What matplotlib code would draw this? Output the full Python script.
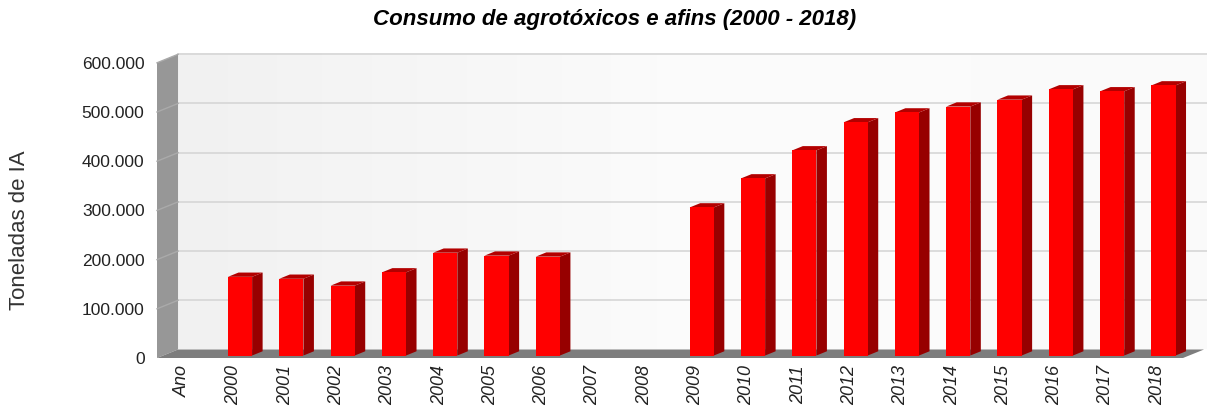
import matplotlib

matplotlib.use("Agg")
import matplotlib.pyplot as plt  # noqa: E402
import numpy as np  # noqa: E402
from matplotlib.patches import Polygon  # noqa: E402

# data (tonnes of active ingredient)
categories = ["Ano"] + [str(y) for y in range(2000, 2019)]
values = [None, 160000, 156000, 142000, 169000, 209000, 203000, 201000,
          None, None, 301000, 360000, 417000, 474000, 494000, 506000,
          520000, 541000, 537000, 549000]
yticks = [0, 100000, 200000, 300000, 400000, 500000, 600000]
ytick_labels = ["0", "100.000", "200.000", "300.000", "400.000", "500.000", "600.000"]

plt.rcParams["font.family"] = ["Liberation Sans", "DejaVu Sans"]

# fake 3D geometry in data units (category units, tonnes)
DX, DY = 0.41, 17300      # full depth of the box
F0, FD = 0.29, 0.50       # bar front depth / bar depth (fraction of box)
W = 0.47                  # bar front width
YMAX = 600000
n = len(categories)
x0, x1 = -0.5, n - 0.5

fig = plt.figure(figsize=(12.07, 4.08), dpi=100)
ax = fig.add_axes([157 / 1207, 50 / 408, 1026 / 1207, 295.2 / 408])
ax.set_xlim(x0, x1)
ax.set_ylim(0, YMAX)
for s in ax.spines.values():
    s.set_visible(False)

# back wall with soft gradient
grad = np.linspace(0, 1, 256)[None, :]
ax.imshow(grad, cmap=matplotlib.colors.LinearSegmentedColormap.from_list(
    "wall", ["#f1f1f1", "#fcfcfc", "#fafafa"]),
    extent=(x0 + DX, x1 + DX + 0.6, DY, YMAX + DY), aspect="auto",
    zorder=0, clip_on=False)
for t in yticks[1:]:
    ax.plot([x0 + DX, x1 + DX + 0.6], [t + DY, t + DY], color="#d6d6d6",
            lw=1.2, zorder=1, clip_on=False)

# left wall
ax.add_patch(Polygon([(x0, 0), (x0 + DX, DY), (x0 + DX, YMAX + DY), (x0, YMAX)],
                     closed=True, fc="#979797", ec="none", zorder=2, clip_on=False))
for t in yticks[1:]:
    ax.plot([x0, x0 + DX], [t, t + DY], color="#aaaaaa", lw=1, zorder=2.5,
            clip_on=False)

# floor
ax.add_patch(Polygon([(x0, 0), (x1, 0), (x1 + DX, DY), (x0 + DX, DY)],
                     closed=True, fc="#7d7d7d", ec="none", zorder=2, clip_on=False))

# bars
for i, v in enumerate(values):
    if v is None:
        continue
    xl = i + F0 * DX - W / 2
    xr = xl + W
    yb = F0 * DY
    yt = v + F0 * DY
    ddx, ddy = FD * DX, FD * DY
    ax.add_patch(Polygon([(xr, yb), (xr + ddx, yb + ddy), (xr + ddx, yt + ddy), (xr, yt)],
                         closed=True, fc="#970000", ec="none", zorder=3, clip_on=False))
    ax.add_patch(Polygon([(xl, yt), (xr, yt), (xr + ddx, yt + ddy), (xl + ddx, yt + ddy)],
                         closed=True, fc="#b30000", ec="none", zorder=3, clip_on=False))
    ax.bar(i + F0 * DX, v, width=W, bottom=yb, color="#ff0000", zorder=4,
           clip_on=False)

ax.set_yticks(yticks)
ax.set_yticklabels(ytick_labels, fontsize=12.5, color="#222222")
ax.set_xticks(range(n))
ax.set_xticklabels(categories, rotation=90, fontsize=13, style="italic",
                   color="#222222", va="top")
ax.tick_params(axis="y", length=0, pad=9)
ax.tick_params(axis="x", length=0, pad=5)

fig.text(615 / 1207, 1 - 20 / 408, "Consumo de agrotóxicos e afins (2000 - 2018)",
         ha="center", va="center", fontsize=16, fontweight="bold", style="italic")
fig.text(20 / 1207, 1 - 230 / 408, "Toneladas de IA", rotation=90, ha="center",
         va="center", fontsize=16, color="#333333")

fig.savefig("out.png", dpi=100)
